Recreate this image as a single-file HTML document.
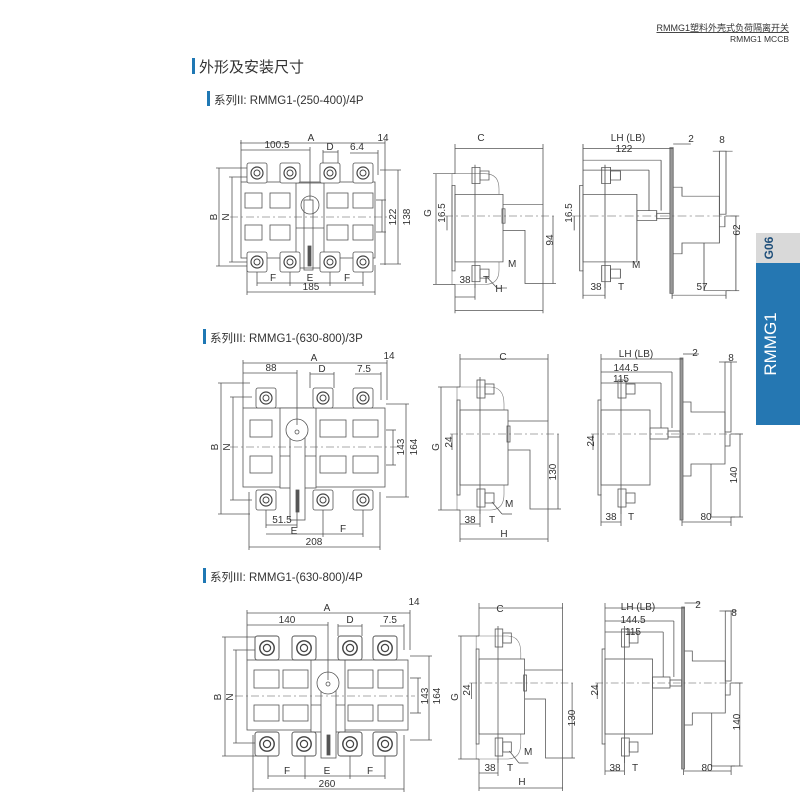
<!DOCTYPE html>
<html><head><meta charset="utf-8"><style>
html,body{margin:0;padding:0;background:#fff;}
svg{display:block;}
text{font-family:"Liberation Sans","Noto Sans CJK SC",sans-serif;fill:#333;}
.d{font-size:10px;}
</style></head><body>
<svg width="800" height="800" viewBox="0 0 800 800" xmlns="http://www.w3.org/2000/svg">
<defs>
<g id="term"><rect x="-10" y="-10" width="20" height="20" rx="2" fill="#fff" stroke="#555" stroke-width="0.8"/><circle r="6" fill="none" stroke="#444" stroke-width="1.2"/><circle r="3" fill="none" stroke="#444" stroke-width="1"/></g>
<g id="sideA" fill="none" stroke="#555" stroke-width="0.8">
 <path d="M-3,-47 H30 Q44,-47 44,-30 V60 Q44,76 30,76 H-3 Z" stroke="#777" stroke-width="0.6"/>
 <rect x="0" y="-24" width="48" height="75" fill="#fff"/>
 <rect x="-3" y="-34" width="3" height="95"/>
 <line x1="20" y1="-57" x2="20" y2="80"/>
 <rect x="17" y="-54" width="8" height="18"/><rect x="25" y="-50" width="9" height="10"/>
 <rect x="17" y="55" width="8" height="18"/><rect x="25" y="59" width="9" height="10"/>
 <path d="M48,-13 H88 V75 H70 V16 H48"/>
 <rect x="47" y="-8" width="3" height="16"/>
 <line x1="-10" y1="0" x2="100" y2="0" stroke-dasharray="8,3,2,3" stroke-width="0.6"/>
 <line x1="0" y1="-75" x2="88" y2="-75"/><line x1="0" y1="-80" x2="0" y2="-47"/><line x1="88" y1="-80" x2="88" y2="-13"/>
 <line x1="-19" y1="-47" x2="-19" y2="76"/><line x1="-22" y1="-47" x2="0" y2="-47"/><line x1="-22" y1="76" x2="0" y2="76"/>
 <line x1="-8" y1="0" x2="-8" y2="16"/>
 <line x1="98" y1="0" x2="98" y2="75"/><line x1="88" y1="75" x2="101" y2="75"/>
 <line x1="0" y1="105" x2="88" y2="105"/><line x1="0" y1="76" x2="0" y2="108"/><line x1="88" y1="75" x2="88" y2="108"/>
 <line x1="0" y1="90" x2="20" y2="90"/><line x1="20" y1="76" x2="20" y2="93"/>
 <line x1="32" y1="68" x2="42" y2="80" /><line x1="42" y1="80" x2="52" y2="80"/>
</g>
<g id="sideB" fill="none" stroke="#555" stroke-width="0.8">
 <rect x="0" y="-24" width="49" height="75" fill="#fff"/>
 <rect x="-3" y="-34" width="3" height="95"/>
 <line x1="20" y1="-57" x2="20" y2="80"/>
 <rect x="17" y="-54" width="8" height="18"/><rect x="25" y="-50" width="9" height="10"/>
 <rect x="17" y="55" width="8" height="18"/><rect x="25" y="59" width="9" height="10"/>
 <rect x="49" y="-6" width="18" height="11"/><rect x="67" y="-3" width="12" height="6"/>
 <rect x="79" y="-76" width="3" height="162" fill="#999" stroke="#666"/>
 <path d="M82,-32 H90 V-22 H124 V12 H129 V0 M124,12 V30 H90 V42 H82 M110,30 V83 H134"/>
 <rect x="124" y="-72" width="6" height="70"/>
 <line x1="-10" y1="0" x2="140" y2="0" stroke-dasharray="8,3,2,3" stroke-width="0.6"/>
 <line x1="0" y1="-75" x2="82" y2="-75"/><line x1="0" y1="-80" x2="0" y2="-34"/>
 <line x1="0" y1="-62" x2="71" y2="-62"/><line x1="71" y1="-62" x2="71" y2="-6"/>
 <line x1="0" y1="-51" x2="60" y2="-51"/><line x1="60" y1="-51" x2="60" y2="-6"/>
 <line x1="-8" y1="0" x2="-8" y2="16"/>
 <line x1="139" y1="0" x2="139" y2="83"/><line x1="130" y1="0" x2="142" y2="0"/><line x1="130" y1="83" x2="142" y2="83"/>
 <line x1="0" y1="88" x2="20" y2="88"/><line x1="0" y1="60" x2="0" y2="92"/><line x1="20" y1="73" x2="20" y2="92"/>
 <line x1="81" y1="88" x2="130" y2="88"/><line x1="81" y1="86" x2="81" y2="92"/><line x1="130" y1="83" x2="130" y2="92"/>
 <line x1="82" y1="-80" x2="98" y2="-80"/><line x1="118" y1="-72" x2="136" y2="-72"/>
</g>
</defs>

<!-- header -->
<text x="789" y="31" font-size="9" text-anchor="end" style="text-decoration:underline">RMMG1塑料外壳式负荷隔离开关</text>
<text x="789" y="42" font-size="8.5" text-anchor="end">RMMG1   MCCB</text>
<rect x="192" y="58" width="3" height="16" fill="#1f78b4"/>
<text x="199" y="72" font-size="15">外形及安装尺寸</text>
<rect x="756" y="233" width="44" height="192" fill="#2577b2"/>
<rect x="756" y="233" width="44" height="30" fill="#d9d9d9"/>
<text transform="translate(773,248) rotate(-90)" font-size="12" text-anchor="middle" fill="#1f4f7a" style="fill:#1f4f7a" font-weight="bold">G06</text>
<text transform="translate(776,344) rotate(-90)" font-size="17" text-anchor="middle" style="fill:#fff">RMMG1</text>

<!-- section labels -->
<rect x="207" y="91" width="3" height="15" fill="#1f78b4"/>
<text x="214" y="104" font-size="11.5">系列II: RMMG1-(250-400)/4P</text>
<rect x="203" y="329" width="3" height="15" fill="#1f78b4"/>
<text x="210" y="342" font-size="11.5">系列III: RMMG1-(630-800)/3P</text>
<rect x="203" y="568" width="3" height="15" fill="#1f78b4"/>
<text x="210" y="581" font-size="11.5">系列III: RMMG1-(630-800)/4P</text>

<!-- ===== Section 1 front ===== -->
<g fill="none" stroke="#555" stroke-width="0.8">
 <rect x="241" y="182" width="134" height="76" fill="#fff"/>
 <rect x="245" y="193" width="17" height="15"/><rect x="270" y="193" width="20" height="15"/><rect x="327" y="193" width="21" height="15"/><rect x="353" y="193" width="20" height="15"/>
 <rect x="245" y="225" width="17" height="15"/><rect x="270" y="225" width="20" height="15"/><rect x="327" y="225" width="21" height="15"/><rect x="353" y="225" width="20" height="15"/>
 <rect x="296" y="183" width="28" height="85" fill="#fff"/>
 <line x1="296" y1="228" x2="324" y2="228"/>
 <rect x="304" y="200" width="9" height="70"/>
 <circle cx="310" cy="205" r="9"/>
 <rect x="308" y="246" width="3" height="20" fill="#555"/>
 <line x1="230" y1="217" x2="390" y2="217" stroke-dasharray="8,3,2,3" stroke-width="0.6"/>
 <line x1="240" y1="143" x2="385" y2="143"/><line x1="241" y1="140" x2="241" y2="182"/><line x1="385" y1="140" x2="385" y2="265"/>
 <line x1="241" y1="150" x2="310" y2="150"/><line x1="310" y1="147" x2="310" y2="200"/>
 <line x1="323" y1="152" x2="338" y2="152"/><line x1="323" y1="150" x2="323" y2="165"/><line x1="338" y1="150" x2="338" y2="165"/>
 <line x1="350" y1="153" x2="378" y2="153"/><line x1="378" y1="150" x2="378" y2="175"/>
 <line x1="219" y1="168" x2="219" y2="266"/><line x1="216" y1="168" x2="250" y2="168"/><line x1="216" y1="266" x2="250" y2="266"/>
 <line x1="232" y1="177" x2="232" y2="262"/><line x1="229" y1="177" x2="248" y2="177"/><line x1="229" y1="262" x2="248" y2="262"/>
 <line x1="382" y1="200" x2="382" y2="232"/><line x1="376" y1="200" x2="386" y2="200"/><line x1="376" y1="232" x2="386" y2="232"/>
 <line x1="398" y1="170" x2="398" y2="264"/><line x1="380" y1="170" x2="401" y2="170"/><line x1="380" y1="264" x2="401" y2="264"/>
 <line x1="257" y1="283" x2="363" y2="283"/><line x1="257" y1="262" x2="257" y2="286"/><line x1="290" y1="262" x2="290" y2="286"/><line x1="330" y1="262" x2="330" y2="286"/><line x1="363" y1="262" x2="363" y2="286"/>
 <line x1="247" y1="292" x2="375" y2="292"/><line x1="247" y1="265" x2="247" y2="295"/><line x1="375" y1="265" x2="375" y2="295"/>
</g>
<use href="#term" x="257" y="173"/><use href="#term" x="290" y="173"/><use href="#term" x="330" y="173"/><use href="#term" x="363" y="173"/>
<use href="#term" x="257" y="262"/><use href="#term" x="290" y="262"/><use href="#term" x="330" y="262"/><use href="#term" x="363" y="262"/>
<g class="d">
<text x="311" y="141" text-anchor="middle">A</text><text x="277" y="148" text-anchor="middle">100.5</text>
<text x="330" y="150" text-anchor="middle">D</text><text x="357" y="150" text-anchor="middle">6.4</text><text x="383" y="141" text-anchor="middle">14</text>
<text transform="translate(217,217) rotate(-90)" text-anchor="middle">B</text><text transform="translate(229,217) rotate(-90)" text-anchor="middle">N</text>
<text transform="translate(396,217) rotate(-90)" text-anchor="middle">122</text><text transform="translate(410,217) rotate(-90)" text-anchor="middle">138</text>
<text x="273" y="281" text-anchor="middle">F</text><text x="310" y="281" text-anchor="middle">E</text><text x="347" y="281" text-anchor="middle">F</text>
<text x="311" y="290" text-anchor="middle">185</text>
</g>

<!-- Section 1 sides -->
<use href="#sideA" transform="translate(455,216) scale(1.0,0.9)"/>
<use href="#sideB" transform="translate(583,216) scale(1.1,0.9)"/>
<g class="d">
<text x="481" y="141" text-anchor="middle">C</text>
<text transform="translate(431,213) rotate(-90)" text-anchor="middle">G</text>
<text transform="translate(445,213) rotate(-90)" text-anchor="middle">16.5</text>
<text transform="translate(553,240) rotate(-90)" text-anchor="middle">94</text>
<text x="508" y="267">M</text>
<text x="465" y="283" text-anchor="middle">38</text><text x="486" y="283" text-anchor="middle">T</text><text x="499" y="292" text-anchor="middle">H</text>
<text x="628" y="141" text-anchor="middle">LH (LB)</text><text x="624" y="152" text-anchor="middle">122</text>
<text x="691" y="142" text-anchor="middle">2</text><text x="722" y="143" text-anchor="middle">8</text>
<text transform="translate(572,213) rotate(-90)" text-anchor="middle">16.5</text>
<text transform="translate(740,230) rotate(-90)" text-anchor="middle">62</text>
<text x="632" y="268">M</text>
<text x="596" y="290" text-anchor="middle">38</text><text x="621" y="290" text-anchor="middle">T</text><text x="702" y="290" text-anchor="middle">57</text>
</g>

<!-- ===== Section 2 front ===== -->
<g fill="none" stroke="#555" stroke-width="0.8">
 <rect x="243" y="408" width="142" height="79" fill="#fff"/>
 <rect x="250" y="420" width="22" height="17"/><rect x="320" y="420" width="26" height="17"/><rect x="353" y="420" width="25" height="17"/>
 <rect x="250" y="456" width="22" height="17"/><rect x="320" y="456" width="26" height="17"/><rect x="353" y="456" width="25" height="17"/>
 <rect x="280" y="408" width="36" height="80" fill="#fff"/>
 <line x1="280" y1="456" x2="316" y2="456"/>
 <rect x="290" y="425" width="15" height="95" fill="#fff"/>
 <circle cx="297" cy="430" r="11" fill="#fff"/><circle cx="297" cy="432" r="2"/>
 <rect x="296" y="490" width="3" height="22" fill="#555"/>
 <line x1="230" y1="447" x2="400" y2="447" stroke-dasharray="8,3,2,3" stroke-width="0.6"/>
 <line x1="243" y1="363" x2="387" y2="363"/><line x1="243" y1="360" x2="243" y2="408"/><line x1="387" y1="360" x2="387" y2="400"/>
 <line x1="243" y1="373" x2="297" y2="373"/><line x1="297" y1="370" x2="297" y2="425"/>
 <line x1="310" y1="374" x2="334" y2="374"/><line x1="310" y1="372" x2="310" y2="388"/><line x1="334" y1="372" x2="334" y2="388"/>
 <line x1="355" y1="374" x2="381" y2="374"/><line x1="381" y1="372" x2="381" y2="400"/>
 <line x1="221" y1="383" x2="221" y2="514"/><line x1="218" y1="383" x2="250" y2="383"/><line x1="218" y1="514" x2="250" y2="514"/>
 <line x1="233" y1="397" x2="233" y2="500"/><line x1="230" y1="397" x2="252" y2="397"/><line x1="230" y1="500" x2="252" y2="500"/>
 <line x1="393" y1="430" x2="393" y2="465"/><line x1="386" y1="430" x2="396" y2="430"/><line x1="386" y1="465" x2="396" y2="465"/>
 <line x1="406" y1="404" x2="406" y2="497"/><line x1="386" y1="404" x2="409" y2="404"/><line x1="386" y1="497" x2="409" y2="497"/>
 <line x1="266" y1="525" x2="297" y2="525"/><line x1="266" y1="500" x2="266" y2="528"/><line x1="297" y1="510" x2="297" y2="528"/>
 <line x1="266" y1="534" x2="363" y2="534"/><line x1="323" y1="500" x2="323" y2="537"/><line x1="363" y1="500" x2="363" y2="537"/>
 <line x1="249" y1="547" x2="380" y2="547"/><line x1="249" y1="492" x2="249" y2="550"/><line x1="380" y1="492" x2="380" y2="550"/>
</g>
<use href="#term" x="266" y="398"/><use href="#term" x="323" y="398"/><use href="#term" x="363" y="398"/>
<use href="#term" x="266" y="500"/><use href="#term" x="323" y="500"/><use href="#term" x="363" y="500"/>
<g class="d">
<text x="314" y="361" text-anchor="middle">A</text><text x="271" y="371" text-anchor="middle">88</text>
<text x="322" y="372" text-anchor="middle">D</text><text x="364" y="372" text-anchor="middle">7.5</text><text x="389" y="359" text-anchor="middle">14</text>
<text transform="translate(218,447) rotate(-90)" text-anchor="middle">B</text><text transform="translate(230,447) rotate(-90)" text-anchor="middle">N</text>
<text transform="translate(404,447) rotate(-90)" text-anchor="middle">143</text><text transform="translate(417,447) rotate(-90)" text-anchor="middle">164</text>
<text x="282" y="523" text-anchor="middle">51.5</text><text x="294" y="534" text-anchor="middle">E</text><text x="343" y="532" text-anchor="middle">F</text>
<text x="314" y="545" text-anchor="middle">208</text>
</g>
<use href="#sideA" transform="translate(460,434)"/>
<use href="#sideB" transform="translate(601,434)"/>
<g class="d">
<text x="503" y="360" text-anchor="middle">C</text>
<text transform="translate(439,447) rotate(-90)" text-anchor="middle">G</text>
<text transform="translate(452,442) rotate(-90)" text-anchor="middle">24</text>
<text transform="translate(556,472) rotate(-90)" text-anchor="middle">130</text>
<text x="505" y="507">M</text>
<text x="470" y="523" text-anchor="middle">38</text><text x="492" y="523" text-anchor="middle">T</text><text x="504" y="537" text-anchor="middle">H</text>
<text x="636" y="357" text-anchor="middle">LH (LB)</text><text x="626" y="371" text-anchor="middle">144.5</text><text x="621" y="382" text-anchor="middle">115</text>
<text x="695" y="356" text-anchor="middle">2</text><text x="731" y="361" text-anchor="middle">8</text>
<text transform="translate(594,441) rotate(-90)" text-anchor="middle">24</text>
<text transform="translate(737,475) rotate(-90)" text-anchor="middle">140</text>
<text x="611" y="520" text-anchor="middle">38</text><text x="631" y="520" text-anchor="middle">T</text><text x="706" y="520" text-anchor="middle">80</text>
</g>

<!-- ===== Section 3 front ===== -->
<g fill="none" stroke="#555" stroke-width="0.8">
 <rect x="247" y="660" width="161" height="70" fill="#fff"/>
 <rect x="254" y="670" width="25" height="18"/><rect x="283" y="670" width="25" height="18"/><rect x="348" y="670" width="25" height="18"/><rect x="378" y="670" width="25" height="18"/>
 <rect x="254" y="705" width="25" height="16"/><rect x="283" y="705" width="25" height="16"/><rect x="348" y="705" width="25" height="16"/><rect x="378" y="705" width="25" height="16"/>
 <rect x="311" y="660" width="34" height="72" fill="#fff"/>
 <line x1="311" y1="705" x2="345" y2="705"/>
 <rect x="321" y="680" width="15" height="78" fill="#fff"/>
 <circle cx="328" cy="683" r="11" fill="#fff"/><circle cx="328" cy="684" r="2"/>
 <rect x="327" y="735" width="3" height="20" fill="#555"/>
 <line x1="235" y1="696" x2="415" y2="696" stroke-dasharray="8,3,2,3" stroke-width="0.6"/>
 <line x1="247" y1="613" x2="410" y2="613"/><line x1="247" y1="610" x2="247" y2="660"/><line x1="410" y1="610" x2="410" y2="650"/>
 <line x1="247" y1="625" x2="328" y2="625"/><line x1="328" y1="622" x2="328" y2="680"/>
 <line x1="338" y1="626" x2="362" y2="626"/><line x1="338" y1="624" x2="338" y2="636"/><line x1="362" y1="624" x2="362" y2="636"/>
 <line x1="380" y1="626" x2="404" y2="626"/><line x1="404" y1="624" x2="404" y2="650"/>
 <line x1="225" y1="637" x2="225" y2="756"/><line x1="222" y1="637" x2="257" y2="637"/><line x1="222" y1="756" x2="257" y2="756"/>
 <line x1="236" y1="650" x2="236" y2="743"/><line x1="233" y1="650" x2="257" y2="650"/><line x1="233" y1="743" x2="257" y2="743"/>
 <line x1="418" y1="678" x2="418" y2="713"/><line x1="410" y1="678" x2="421" y2="678"/><line x1="410" y1="713" x2="421" y2="713"/>
 <line x1="429" y1="656" x2="429" y2="740"/><line x1="410" y1="656" x2="432" y2="656"/><line x1="410" y1="740" x2="432" y2="740"/>
 <line x1="268" y1="776" x2="385" y2="776"/><line x1="268" y1="745" x2="268" y2="779"/><line x1="305" y1="745" x2="305" y2="779"/><line x1="350" y1="745" x2="350" y2="779"/><line x1="385" y1="745" x2="385" y2="779"/>
 <line x1="253" y1="789" x2="404" y2="789"/><line x1="253" y1="735" x2="253" y2="792"/><line x1="404" y1="735" x2="404" y2="792"/>
</g>
<use href="#term" x="267" y="648" transform="translate(267,648) scale(1.2) translate(-267,-648)"/>
<use href="#term" x="304" y="648" transform="translate(304,648) scale(1.2) translate(-304,-648)"/>
<use href="#term" x="350" y="648" transform="translate(350,648) scale(1.2) translate(-350,-648)"/>
<use href="#term" x="385" y="648" transform="translate(385,648) scale(1.2) translate(-385,-648)"/>
<use href="#term" x="267" y="744" transform="translate(267,744) scale(1.2) translate(-267,-744)"/>
<use href="#term" x="304" y="744" transform="translate(304,744) scale(1.2) translate(-304,-744)"/>
<use href="#term" x="350" y="744" transform="translate(350,744) scale(1.2) translate(-350,-744)"/>
<use href="#term" x="385" y="744" transform="translate(385,744) scale(1.2) translate(-385,-744)"/>
<g class="d">
<text x="327" y="611" text-anchor="middle">A</text><text x="287" y="623" text-anchor="middle">140</text>
<text x="350" y="623" text-anchor="middle">D</text><text x="390" y="623" text-anchor="middle">7.5</text><text x="414" y="605" text-anchor="middle">14</text>
<text transform="translate(221,697) rotate(-90)" text-anchor="middle">B</text><text transform="translate(233,697) rotate(-90)" text-anchor="middle">N</text>
<text transform="translate(428,696) rotate(-90)" text-anchor="middle">143</text><text transform="translate(440,696) rotate(-90)" text-anchor="middle">164</text>
<text x="287" y="774" text-anchor="middle">F</text><text x="327" y="774" text-anchor="middle">E</text><text x="370" y="774" text-anchor="middle">F</text>
<text x="327" y="787" text-anchor="middle">260</text>
</g>
<use href="#sideA" transform="translate(479,683) scale(0.95,1)"/>
<use href="#sideB" transform="translate(605,683) scale(0.97,1)"/>
<g class="d">
<text x="500" y="612" text-anchor="middle">C</text>
<text transform="translate(458,697) rotate(-90)" text-anchor="middle">G</text>
<text transform="translate(470,690) rotate(-90)" text-anchor="middle">24</text>
<text transform="translate(575,718) rotate(-90)" text-anchor="middle">130</text>
<text x="524" y="755">M</text>
<text x="490" y="771" text-anchor="middle">38</text><text x="510" y="771" text-anchor="middle">T</text><text x="522" y="785" text-anchor="middle">H</text>
<text x="638" y="610" text-anchor="middle">LH (LB)</text><text x="633" y="623" text-anchor="middle">144.5</text><text x="633" y="635" text-anchor="middle">115</text>
<text x="698" y="608" text-anchor="middle">2</text><text x="734" y="616" text-anchor="middle">8</text>
<text transform="translate(598,690) rotate(-90)" text-anchor="middle">24</text>
<text transform="translate(740,722) rotate(-90)" text-anchor="middle">140</text>
<text x="615" y="771" text-anchor="middle">38</text><text x="635" y="771" text-anchor="middle">T</text><text x="707" y="771" text-anchor="middle">80</text>
</g>
</svg>
</body></html>
